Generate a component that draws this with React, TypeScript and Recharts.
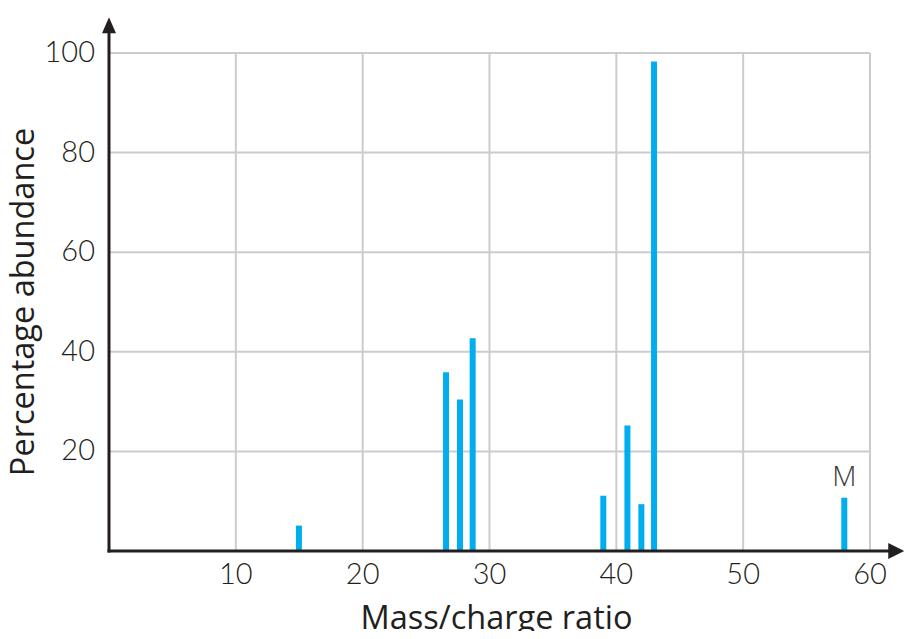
import React from "react";
import { ComposedChart, Bar, XAxis, YAxis, CartesianGrid, ReferenceLine, LabelList, Label } from "recharts";

const massCharge = [15, 26.6, 27.7, 28.7, 39, 40.9, 42, 43, 58];
const abundance = [5.1, 35.9, 30.4, 42.7, 11.1, 25.2, 9.4, 98.3, 10.7];
const peakLabels = ["", "", "", "", "", "", "", "", "M"];
const xTicks = [10, 20, 30, 40, 50, 60];
const yTicks = [20, 40, 60, 80, 100];

const data = massCharge.map((m, i) => ({ mz: m, ab: abundance[i], label: peakLabels[i] }));

const INK = "#231f20";
const BAR = "#00aeef";
const GRID = "#cccccc";
const FONT = "Lato, 'Open Sans', sans-serif";
const TITLE_FONT = "'Open Sans', Lato, sans-serif";

const XTick = (props: any) => {
  const { x, y, payload } = props;
  return (
    <text x={x} y={y} dy={33} textAnchor="middle" fill={INK} fontFamily={FONT} fontWeight={300} fontSize={29}>
      {payload.value}
    </text>
  );
};

const YTick = (props: any) => {
  const { x, y, payload } = props;
  return (
    <text x={x} y={y} dx={-14} dy={9} textAnchor="end" fill={INK} fontFamily={FONT} fontWeight={300} fontSize={29}>
      {payload.value}
    </text>
  );
};

const ArrowX = (props: any) => {
  const { x1, y1, x2, y2 } = props;
  return (
    <g>
      <line x1={x1 - 1.5} y1={y1} x2={x2 - 10} y2={y2} stroke={INK} strokeWidth={3} />
      <polygon points={`${x2},${y2} ${x2 - 16},${y2 - 8} ${x2 - 16},${y2 + 8}`} fill={INK} />
    </g>
  );
};

const ArrowY = (props: any) => {
  const { x1, y1, x2, y2 } = props;
  const top = Math.min(y1, y2);
  const bottom = Math.max(y1, y2);
  return (
    <g>
      <line x1={x1} y1={bottom + 1.5} x2={x2} y2={top + 10} stroke={INK} strokeWidth={3} />
      <polygon points={`${x1},${top} ${x1 - 7},${top + 16} ${x1 + 7},${top + 16}`} fill={INK} />
    </g>
  );
};

export default function App() {
  return (
    <div style={{ height: 623 }}>
      <ComposedChart
        width={898}
        height={631}
        data={data}
        margin={{ top: 45, right: 36, bottom: 0, left: 0 }}
      >
        <CartesianGrid stroke={GRID} strokeWidth={2} horizontalValues={yTicks} verticalValues={xTicks} />
        <XAxis
          dataKey="mz"
          type="number"
          domain={[0, 60]}
          ticks={xTicks}
          allowDataOverflow
          axisLine={false}
          tickLine={false}
          tickSize={0}
          tickMargin={0}
          height={88}
          tick={<XTick />}
          interval={0}
        >
          <Label
            value="Mass/charge ratio"
            position="insideBottom"
            offset={10}
            dx={7}
            fill={INK}
            fontFamily={TITLE_FONT}
            fontSize={32.5}
          />
        </XAxis>
        <YAxis
          type="number"
          domain={[0, 100]}
          ticks={yTicks}
          allowDataOverflow
          axisLine={false}
          tickLine={false}
          tickSize={0}
          tickMargin={0}
          width={101}
          tick={<YTick />}
          interval={0}
        >
          <Label
            value="Percentage abundance"
            position="insideLeft"
            angle={-90}
            offset={14}
            fill={INK}
            fontFamily={TITLE_FONT}
            fontSize={32.5}
            style={{ textAnchor: "middle" }}
          />
        </YAxis>
        <Bar dataKey="ab" fill={BAR} barSize={6} isAnimationActive={false}>
          <LabelList dataKey="label" position="top" offset={12} fill="#3a3a3a" fontFamily={TITLE_FONT} fontWeight={300} fontSize={28} />
        </Bar>
        <ReferenceLine
          segment={[{ x: 0, y: 0 }, { x: 62.7, y: 0 }]}
          ifOverflow="visible"
          shape={<ArrowX />}
        />
        <ReferenceLine
          segment={[{ x: 0, y: 0 }, { x: 0, y: 107.2 }]}
          ifOverflow="visible"
          shape={<ArrowY />}
        />
      </ComposedChart>
    </div>
  );
}
